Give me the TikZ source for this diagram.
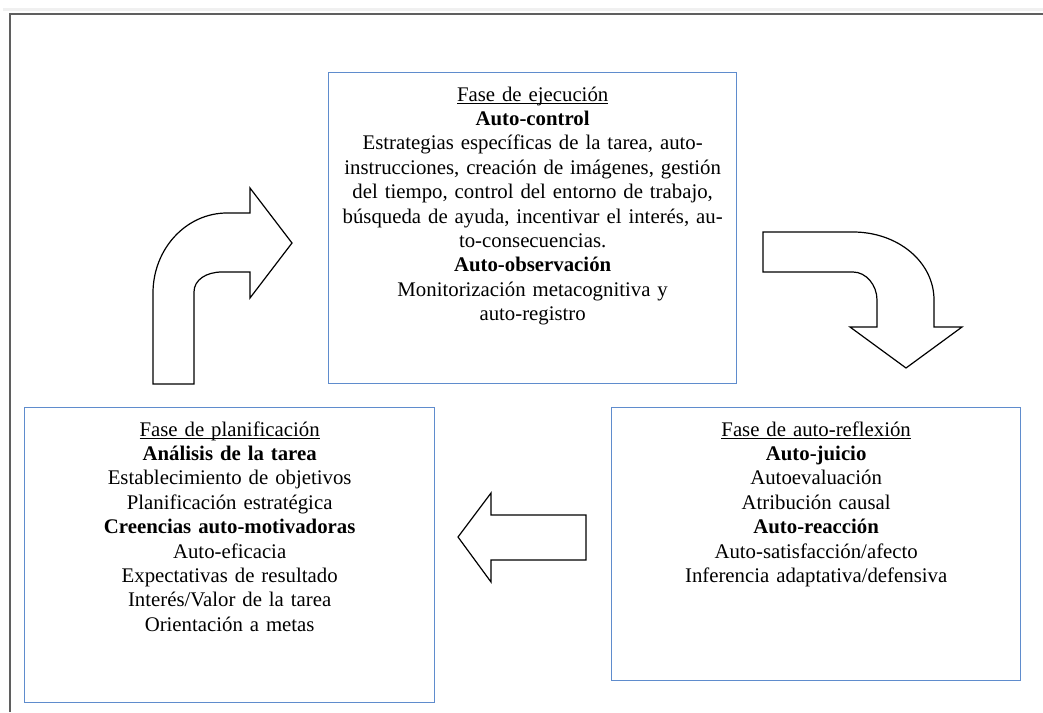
\documentclass[tikz,border=0pt]{standalone}
\usepackage{fontspec}
\setmainfont{Liberation Serif}
\usepackage{tikz}
\definecolor{boxblue}{RGB}{95,140,205}
\definecolor{framegray}{RGB}{95,95,95}
\newcommand{\phasetitle}[1]{\setbox0=\hbox{#1}\rlap{\rule[-2.8pt]{\wd0}{0.9pt}}\box0}

\begin{document}
\begin{tikzpicture}[
            x = 1pt, % one unit = one pixel
            y = -1pt, % y runs downwards
            line join = miter
            ]

        \tikzstyle{phase}=[
            draw = boxblue,
            line width = 1.3pt,
            anchor = north west,
            inner sep = 0pt,
            align = center,
            text height = 28.5pt,
            font = \fontsize{20.8}{24.4}\selectfont
        ]
        \tikzstyle{bigarrow}=[
            draw = black,
            fill = white,
            line width = 1.2pt
        ]

        \useasboundingbox (0,0) rectangle (1043,712);

        % page frame
        \fill[gray!12] (3,8) rectangle (1043,11);
        \draw[framegray, line width=2pt] (10,712) -- (10,13.5) -- (1043,13.5);

        % phases
        \node[phase, text width=408pt, text depth=282.5pt] (ejec) at (328,72) {\phasetitle{Fase de ejecución}\\
            \textbf{Auto-control}\\
            Estrategias específicas de la tarea, auto-\\
            instrucciones, creación de imágenes, gestión\\
            del tiempo, control del entorno de trabajo,\\
            búsqueda de ayuda, incentivar el interés, au-\\
            to-consecuencias.\\
            \textbf{Auto-observación}\\
            Monitorización metacognitiva y\\
            auto-registro};
        \node[phase, text width=410pt, text depth=266.5pt] (plan) at (24,407) {\phasetitle{Fase de planificación}\\
            \textbf{Análisis de la tarea}\\
            Establecimiento de objetivos\\
            Planificación estratégica\\
            \textbf{Creencias auto-motivadoras}\\
            Auto-eficacia\\
            Expectativas de resultado\\
            Interés/Valor de la tarea\\
            Orientación a metas};
        \node[phase, text width=409pt, text depth=244.5pt] (refl) at (611,407) {\phasetitle{Fase de auto-reflexión}\\
            \textbf{Auto-juicio}\\
            Autoevaluación\\
            Atribución causal\\
            \textbf{Auto-reacción}\\
            Auto-satisfacción/afecto\\
            Inferencia adaptativa/defensiva};

        % cycle arrows
        \draw[bigarrow] (153,384) -- (153,293)
            .. controls (153,249) and (186,213) .. (227,213)
            -- (250,213) -- (250,188) -- (292,243) -- (250,298) -- (250,272)
            -- (222,272) .. controls (206,272) and (194,280) .. (194,292)
            -- (194,384) -- cycle;
        \draw[bigarrow] (763,232) -- (853,232)
            .. controls (898,232) and (934,262) .. (934,300)
            -- (934,327) -- (962,327) -- (906,368) -- (850,327) -- (877,327)
            -- (877,300) .. controls (877,285) and (866,272) .. (853,272)
            -- (763,272) -- cycle;
        \draw[bigarrow] (458,537) -- (491,493) -- (491,515) -- (586,515)
            -- (586,560) -- (491,560) -- (491,582) -- cycle;

\end{tikzpicture}
\end{document}
